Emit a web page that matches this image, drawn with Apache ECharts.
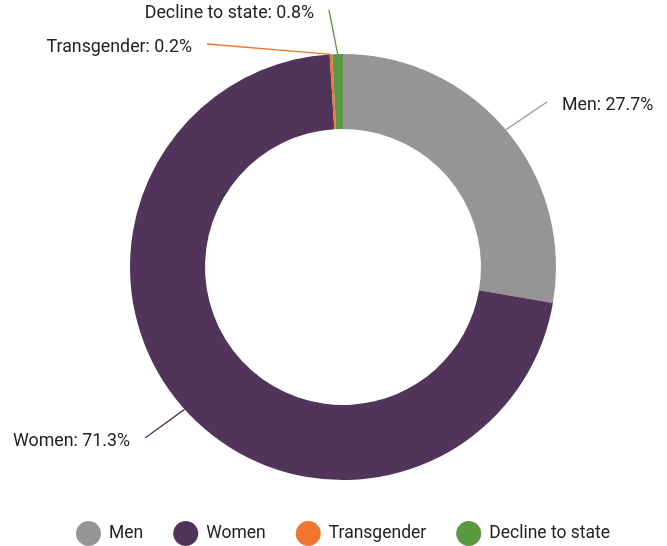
<!DOCTYPE html>
<html lang="en">
<head>
    <meta charset="UTF-8">
    <title>Gender</title>
    <script src="https://cdn.jsdelivr.net/npm/echarts@6/dist/echarts.min.js"></script>
</head>
<body style="margin:0">
<div id="main" style="width: 667px;height:546px;"></div>

<script type="text/javascript">
    var categories = ['Men', 'Women', 'Transgender', 'Decline to state'];
    var shares = [27.7, 71.3, 0.2, 0.8];
    var colors = ['#969495', '#51345a', '#f2762f', '#5b9842'];

    // where each label line ends, and which side the text sits on
    var labelSpots = [[547, 102, 'left'], [145, 438, 'right'], [207, 44, 'right'], [329, 10, 'right']];

    var myChart = echarts.init(document.getElementById('main'));

    var data = [];
    for (var i = 0; i < categories.length; i++) {
        data.push({name: categories[i], value: shares[i], itemStyle: {color: colors[i]}});
    }

    var option = {
        textStyle: {fontFamily: 'Roboto'},
        legend: {
            top: 516,
            left: 71,
            icon: 'circle',
            itemWidth: 25,
            itemHeight: 25,
            itemGap: 30,
            textStyle: {fontSize: 17.5, color: '#222', padding: [0, 0, 0, 3]},
            data: categories
        },
        series: [
            {
                name: 'Gender',
                type: 'pie',
                center: [343, 267],
                radius: [138, 213],
                startAngle: 90,
                clockwise: true,
                avoidLabelOverlap: false,
                label: {
                    formatter: '{b}: {c}%',
                    fontSize: 17.8,
                    color: '#222'
                },
                labelLine: {
                    length: 48,
                    length2: 0,
                    lineStyle: {width: 1.3}
                },
                labelLayout: function (params) {
                    var spot = labelSpots[params.dataIndex];
                    var start = params.labelLinePoints[0];
                    var gap = 15;
                    return {
                        x: spot[2] === 'left' ? spot[0] + gap : spot[0] - gap,
                        y: spot[1] + 4,
                        align: spot[2],
                        verticalAlign: 'middle',
                        labelLinePoints: [start, [spot[0], spot[1]], [spot[0], spot[1]]]
                    };
                },
                emphasis: {scale: false},
                data: data
            }
        ]
    };

    myChart.setOption(option);
</script>
</body>
</html>
